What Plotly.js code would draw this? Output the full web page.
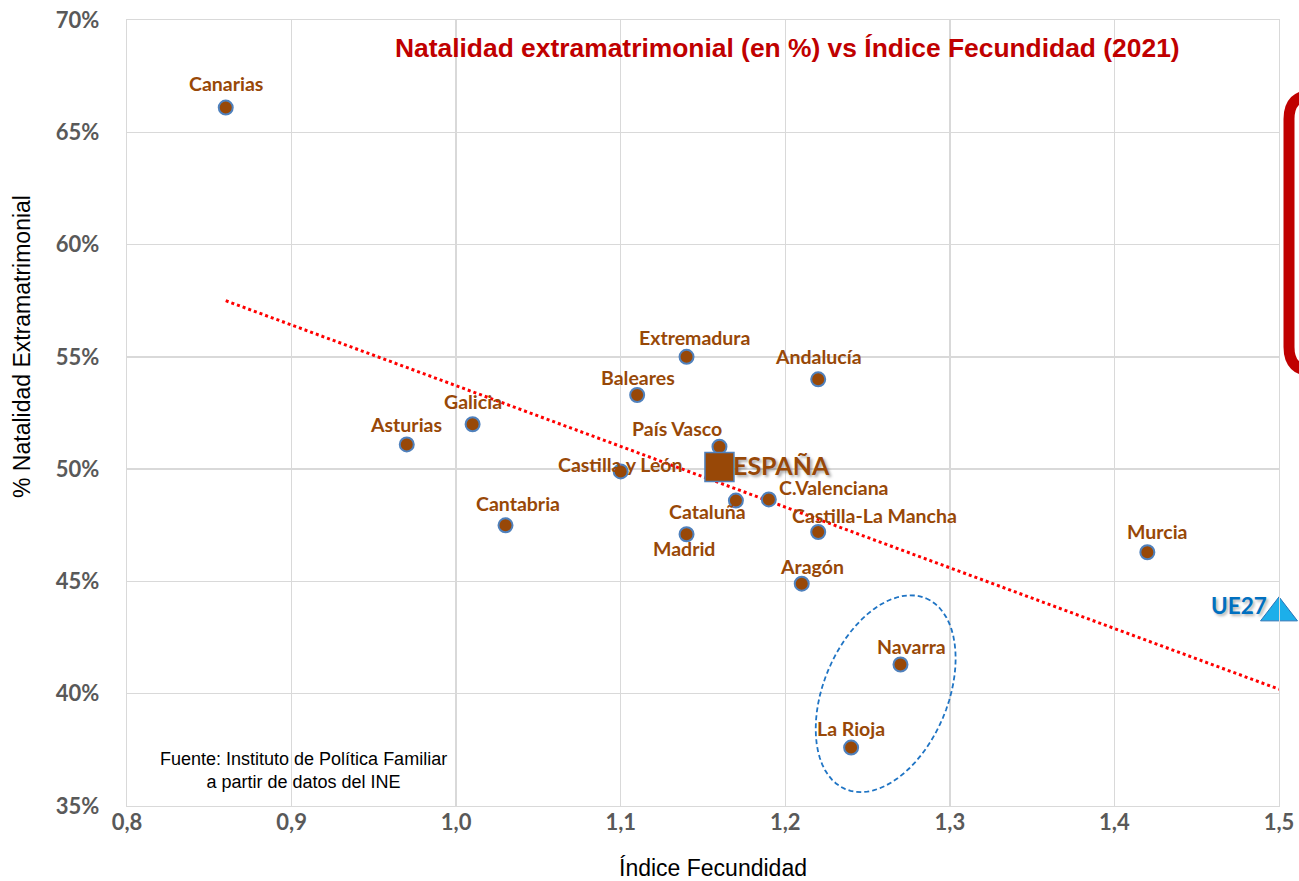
<!DOCTYPE html>
<html>
<head>
<meta charset="utf-8">
<script src="https://cdn.plot.ly/plotly-3.0.1.min.js"></script>
<style>html,body{margin:0;padding:0;background:#fff;}#chart{width:1299px;height:881px;}</style>
</head>
<body>
<div id="chart"></div>
<script>
// ---- data ----
const regions = ['Canarias','Extremadura','Andalucía','Baleares','Galicia','Asturias','País Vasco','Castilla y León','Cataluña','C.Valenciana','Castilla-La Mancha','Madrid','Cantabria','Murcia','Aragón','Navarra','La Rioja'];
const fecundidad = [0.86,1.14,1.22,1.11,1.01,0.97,1.16,1.10,1.17,1.19,1.22,1.14,1.03,1.42,1.21,1.27,1.24];
const natalidad = [66.1,55.0,54.0,53.3,52.0,51.1,51.0,49.9,48.6,48.65,47.2,47.1,47.5,46.3,44.9,41.3,37.6];
const espanaLabel = ['ESPAÑA'];
const espanaX = [1.16];
const espanaY = [50.1];
const ueLabel = ['UE27'];
const ueX = [1.5];
const ueY = [43.6];
const trendX = [0.86, 1.5];
const trendY = [57.5, 40.2];
const xTicks = [0.8,0.9,1.0,1.1,1.2,1.3,1.4,1.5];
const xTickText = ['0,8','0,9','1,0','1,1','1,2','1,3','1,4','1,5'];
const yTicks = [35,40,45,50,55,60,65,70];
const yTickText = ['35%','40%','45%','50%','55%','60%','65%','70%'];
const chartTitle = 'Natalidad extramatrimonial (en %) vs Índice Fecundidad (2021)';
const xTitle = 'Índice Fecundidad';
const yTitle = '% Natalidad Extramatrimonial';
const sourceText = 'Fuente: Instituto de Política Familiar<br>a partir de datos del INE';

// ---- style / placement (pixel offsets of labels) ----
const labelOffsets = {
  'Canarias':[0,-24],'Extremadura':[8,-19],'Andalucía':[0,-23],'Baleares':[1,-18],'Galicia':[0,-23],
  'Asturias':[-1,-20],'País Vasco':[-42,-18],'Castilla y León':[0,-7],'Cataluña':[-28,11],
  'C.Valenciana':[65,-12],'Castilla-La Mancha':[56,-17],'Madrid':[-3,14],'Cantabria':[12,-22],
  'Murcia':[10,-21],'Aragón':[10,-17],'Navarra':[11,-18],'La Rioja':[0,-19]
};
const W = 1299, H = 881;
const M = {l:127, r:20, t:20, b:75};
const plotW = W - M.l - M.r, plotH = H - M.t - M.b;
const xr = [0.8,1.5], yr = [35,70];
const pxX = plotW/(xr[1]-xr[0]), pxY = plotH/(yr[1]-yr[0]);
const px2 = (x)=>(x-M.l)/plotW, py2 = (y)=>(M.t+plotH-y)/plotH;
const brown = '#984807';
const labelFont = {family:'Lato, "Open Sans", sans-serif', size:19.5, color:brown, weight:700};
const tickFont = {family:'Lato, sans-serif', size:22, color:'#595959', weight:700};
const arial = '"Liberation Sans", Arial, sans-serif';

const traces = [
  {x:trendX, y:trendY, mode:'lines', type:'scatter', hoverinfo:'skip',
   line:{color:'#FF0000', width:3, dash:'dot'}},
  {x:fecundidad, y:natalidad, text:regions, mode:'markers', type:'scatter',
   marker:{size:14, color:brown, line:{color:'#4F81BD', width:2}}},
  {x:espanaX, y:espanaY, text:espanaLabel, mode:'markers', type:'scatter',
   marker:{symbol:'square', size:29, color:brown, line:{color:'#4F81BD', width:1.5}}},
  {x:ueX, y:ueY, text:ueLabel, mode:'markers', type:'scatter', cliponaxis:false,
   marker:{symbol:'triangle-up', size:32, color:'#1CAFEA', line:{color:'#2E75B6', width:1}}}
];

const annotations = regions.map((r,i)=>({
  x:fecundidad[i], y:natalidad[i], text:'<b>'+r+'</b>', showarrow:false,
  xanchor:'center', yanchor:'middle',
  xshift:labelOffsets[r][0], yshift:-labelOffsets[r][1], font:labelFont
}));
annotations.push({x:espanaX[0], y:espanaY[0], text:'<b>'+espanaLabel[0]+'</b>', showarrow:false, xanchor:'center', yanchor:'middle', xshift:62, yshift:2,
  font:{family:'Lato, sans-serif', size:25, color:brown, weight:700, shadow:'2px 2px 3px rgba(0,0,0,0.35)'}});
annotations.push({x:ueX[0], y:ueY[0], text:'<b>'+ueLabel[0]+'</b>', showarrow:false, xanchor:'center', yanchor:'middle', xshift:-40, yshift:7,
  font:{family:'Lato, sans-serif', size:22.5, color:'#0070C0', weight:700, shadow:'2px 2px 3px rgba(0,0,0,0.3)'}});
annotations.push({xref:'paper', yref:'paper', x:px2(787), y:py2(48), xanchor:'center', yanchor:'middle',
  text:'<b>'+chartTitle+'</b>', showarrow:false,
  font:{family:arial, size:26.4, color:'#C00000', weight:700}});
annotations.push({xref:'paper', yref:'paper', x:px2(303), y:py2(770), xanchor:'center', yanchor:'middle',
  text:sourceText, showarrow:false, align:'center',
  font:{family:arial, size:18, color:'#000000'}});
annotations.push({xref:'paper', yref:'paper', x:px2(713), y:py2(868), xanchor:'center', yanchor:'middle',
  text:xTitle, showarrow:false, font:{family:arial, size:23, color:'#000000'}});
annotations.push({xref:'paper', yref:'paper', x:px2(22), y:py2(347), xanchor:'center', yanchor:'middle',
  text:yTitle, textangle:-90, showarrow:false, font:{family:arial, size:23, color:'#000000'}});

// dashed ellipse around Navarra / La Rioja (pixel geometry converted to data units)
const ell = {cx:1.261, cy:40.0, a:103.6, b:62.1, tilt:22.9};
const th = ell.tilt*Math.PI/180;
let p = '';
for (let k=0;k<=72;k++){
  const t = k/72*2*Math.PI;
  const dxp = ell.a*Math.cos(t)*Math.sin(th) + ell.b*Math.sin(t)*Math.cos(th);
  const dyp = -ell.a*Math.cos(t)*Math.cos(th) + ell.b*Math.sin(t)*Math.sin(th);
  const X = ell.cx + dxp/pxX, Y = ell.cy - dyp/pxY;
  p += (k===0?'M ':' L ') + X.toFixed(5) + ',' + Y.toFixed(4);
}
p += ' Z';

// red rounded box at right edge (pixel -> paper)
const L=1289, T=95, B=371, R=1340, rad=24;
const box = `M ${px2(R)},${py2(T)} L ${px2(L+rad)},${py2(T)} Q ${px2(L)},${py2(T)} ${px2(L)},${py2(T+rad)} L ${px2(L)},${py2(B-rad)} Q ${px2(L)},${py2(B)} ${px2(L+rad)},${py2(B)} L ${px2(R)},${py2(B)}`;

const layout = {
  width:W, height:H, margin:M, showlegend:false, paper_bgcolor:'#ffffff', plot_bgcolor:'#ffffff',
  xaxis:{range:xr, tickvals:xTicks, ticktext:xTickText.map(s=>'<b>'+s+'</b>'), showgrid:true, gridcolor:'#D9D9D9', gridwidth:1.3,
    zeroline:false, showline:true, linecolor:'#D9D9D9', linewidth:1.3, mirror:true, ticks:'', ticklabelstandoff:-4,
    tickfont:tickFont},
  yaxis:{range:yr, tickvals:yTicks, ticktext:yTickText.map(s=>'<b>'+s+'</b>'), showgrid:true, gridcolor:'#D9D9D9', gridwidth:1.3,
    zeroline:false, showline:true, linecolor:'#D9D9D9', linewidth:1.3, mirror:true, ticks:'', ticklabelstandoff:22,
    tickfont:tickFont},
  annotations:annotations,
  shapes:[
    {type:'path', xref:'x', yref:'y', path:p, line:{color:'#1F74C4', width:1.8, dash:'5px,3px'}},
    {type:'path', xref:'paper', yref:'paper', path:box, line:{color:'#C00000', width:11}}
  ]
};
Plotly.newPlot('chart', traces, layout, {displayModeBar:false, staticPlot:true});
</script>
</body>
</html>
